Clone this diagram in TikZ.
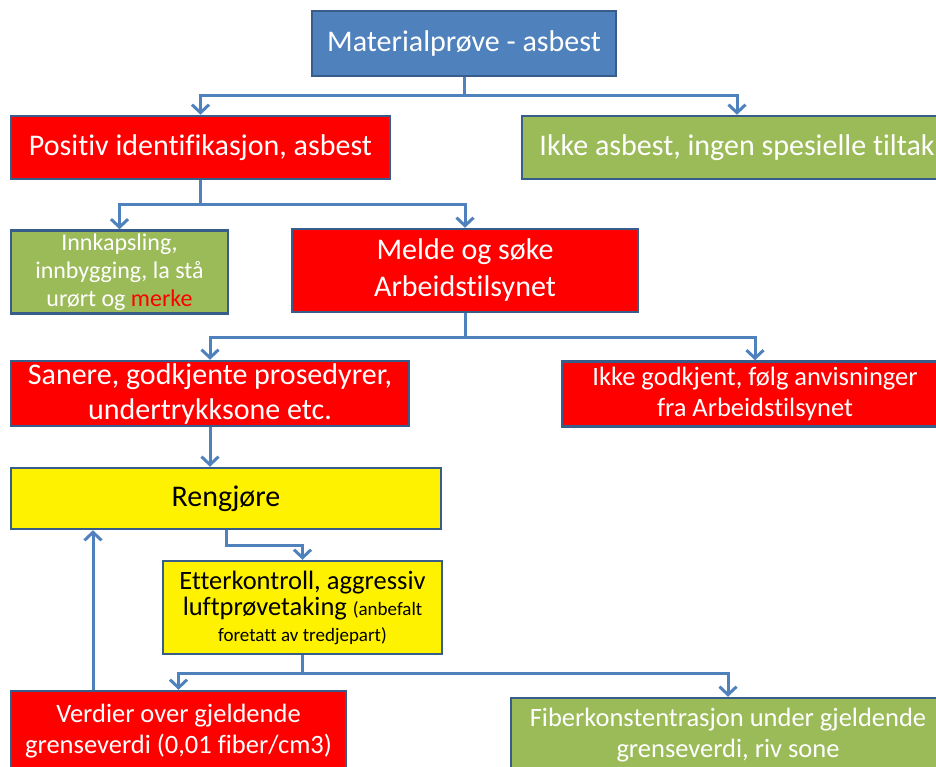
\documentclass[tikz,border=0pt]{standalone}
\usepackage{fontspec}
\setmainfont{Carlito}[Ligatures=NoCommon]
\usepackage{xcolor}
\usetikzlibrary{positioning,arrows.meta}
\definecolor{boxblue}{HTML}{4F81BD}
\definecolor{edgeblue}{HTML}{385D8A}
\definecolor{boxgreen}{HTML}{9BBB59}

\begin{document}
\begin{tikzpicture}[x=1pt, y=-1pt,
  box/.style={rectangle, draw=edgeblue, line width=2.5pt, text=white, align=center, inner sep=2pt},
  redbox/.style={box, fill=red},
  greenbox/.style={box, fill=boxgreen},
  yellowbox/.style={box, fill=yellow, text=black},
  big/.style={font=\fontsize{30}{37}\selectfont},
  mid/.style={font=\fontsize{26.5}{31}\selectfont},
  arr/.style={-{Straight Barb[length=8pt,width=17pt]}, line width=3pt, color=boxblue}
]
\useasboundingbox (0,0) rectangle (936,767);
\clip (0,0) rectangle (936,767);
\node[box, fill=boxblue, big, minimum width=304pt, minimum height=65pt] (mat) at (464,43.5) {Materialprøve - asbest};
\node[redbox, big, minimum width=379pt, minimum height=63pt] (pos) at (200.5,147.5) {Positiv identifikasjon, asbest};
\node[greenbox, big, minimum width=430pt, minimum height=63pt] (ikke) at (737,147.5) {Ikke asbest, ingen spesielle tiltak};
\node[greenbox, font=\fontsize{24}{28}\selectfont, minimum width=217pt, minimum height=83pt] (innk) at (119.5,272) {Innkapsling,\\innbygging, la stå\\urørt og \textcolor{red}{merke}};
\node[redbox, big, minimum width=346pt, minimum height=83pt] (melde) at (465,270.5) {Melde og søke\\Arbeidstilsynet};
\node[redbox, font=\fontsize{30}{35}\selectfont, minimum width=398pt, minimum height=65pt] (sanere) at (210,393.5) {Sanere, godkjente prosedyrer,\\undertrykksone etc.};
\node[redbox, mid, minimum width=386pt, minimum height=65pt] (igk) at (755,394) {Ikke godkjent, følg anvisninger\\fra Arbeidstilsynet};
\node[yellowbox, big, minimum width=430pt, minimum height=61pt] (reng) at (226,498.5) {Rengjøre};
\node[yellowbox, font=\fontsize{26.5}{26}\selectfont, minimum width=279pt, minimum height=93pt] (etter) at (302.5,607.5)
  {Etterkontroll, aggressiv\\luftprøvetaking {\fontsize{19}{20}\selectfont (anbefalt}\\{\fontsize{19}{20}\selectfont foretatt av tredjepart)}};
\node[redbox, mid, minimum width=335pt, minimum height=80pt] (verdier) at (178.5,731) {Verdier over gjeldende\\grenseverdi (0,01 fiber/cm3)};
\node[greenbox, mid, minimum width=434pt, minimum height=74pt] (fiber) at (728,735) {Fiberkonstentrasjon under gjeldende\\grenseverdi, riv sone};
\coordinate (back) at ([xshift=-85.5pt]verdier.north);
\draw[arr] (mat.south) -- ++(0,18) -| (pos.north);
\draw[arr] (mat.south) -- ++(0,18) -| (ikke.north);
\draw[arr] (pos.south) -- ++(0,24) -| (innk.north);
\draw[arr] (pos.south) -- ++(0,24) -| (melde.north);
\draw[arr] (melde.south) -- ++(0,24) -| (sanere.north);
\draw[arr] (melde.south) -- ++(0,24) -| (igk.north);
\draw[arr] (sanere.south) -- (sanere.south |- reng.north);
\draw[arr] (reng.south) -- ++(0,15) -| (etter.north);
\draw[arr] (etter.south) -- ++(0,18) -| (verdier.north);
\draw[arr] (etter.south) -- ++(0,18) -| (fiber.north);
\draw[arr] (back) -- (back |- reng.south);
\end{tikzpicture}
\end{document}
